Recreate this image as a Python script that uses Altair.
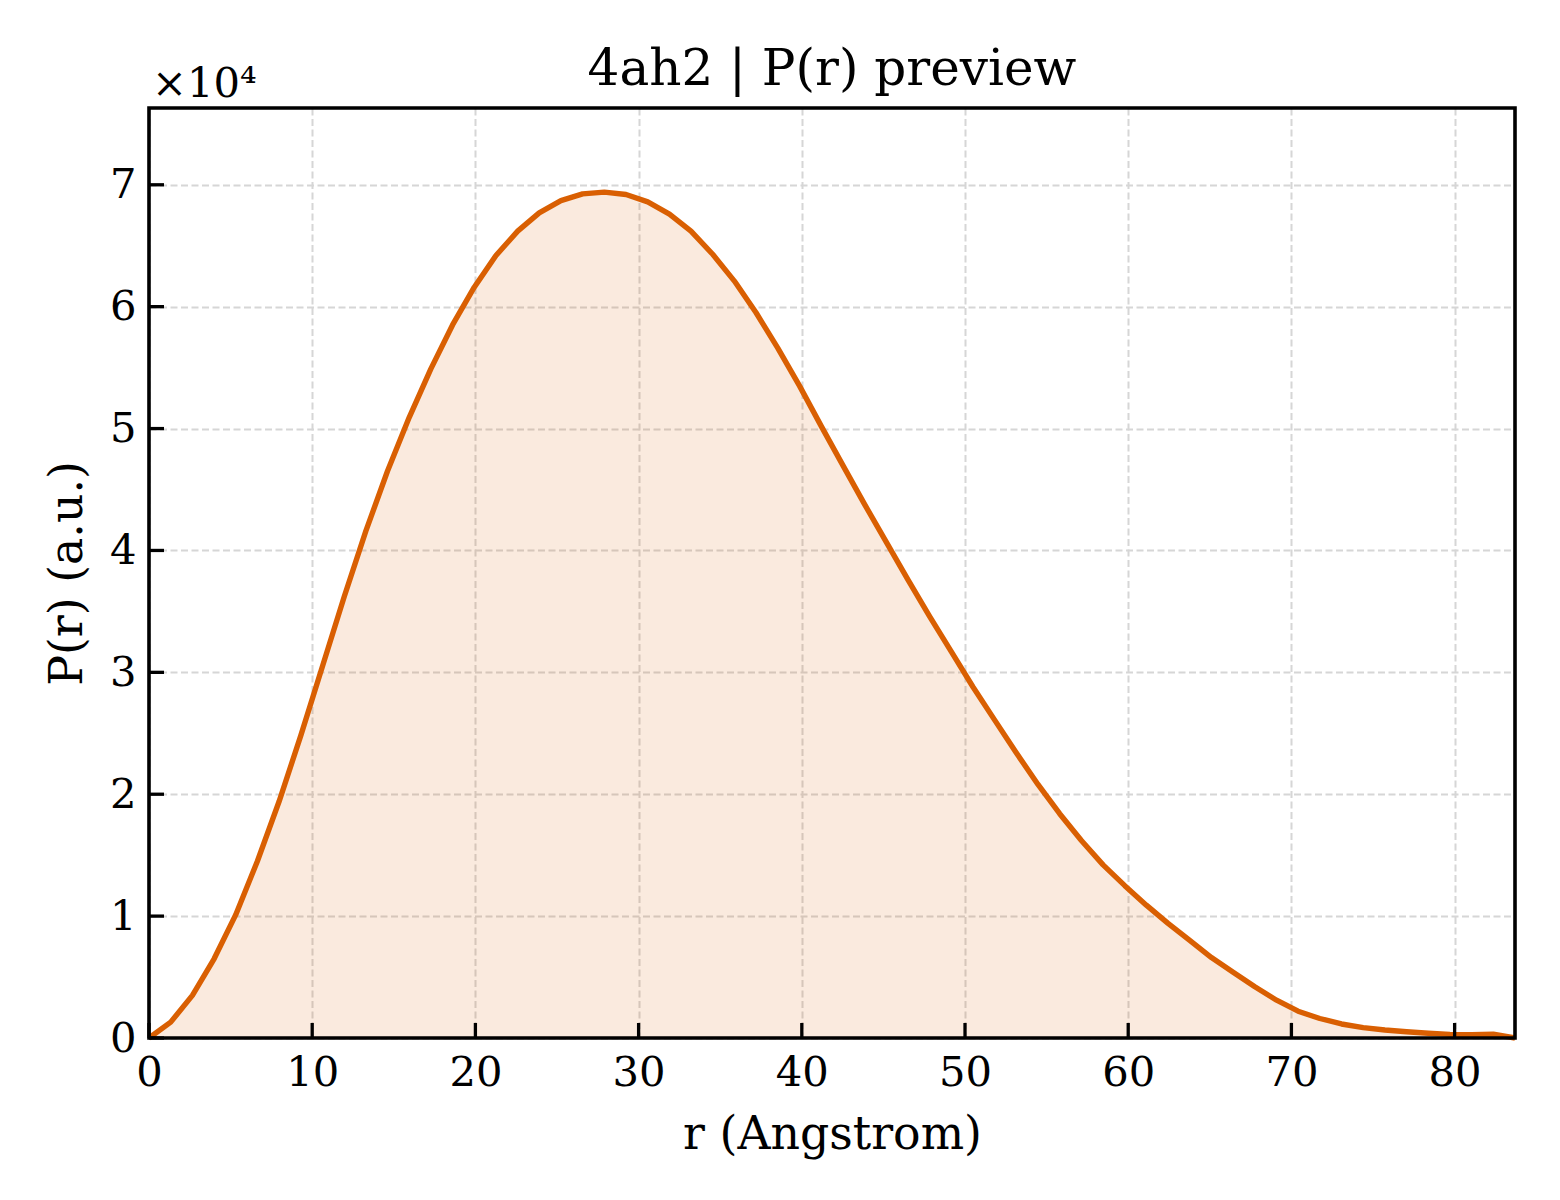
import altair as alt
import pandas as pd

# r grid (Angstrom)
r_vals = [0.00, 1.33, 2.66, 3.99, 5.31, 6.64, 7.97, 9.30, 10.63, 11.96,
          13.29, 14.61, 15.94, 17.27, 18.60, 19.93, 21.26, 22.59, 23.91, 25.24,
          26.57, 27.90, 29.23, 30.56, 31.89, 33.21, 34.54, 35.87, 37.20, 38.53,
          39.86, 41.19, 42.51, 43.84, 45.17, 46.50, 47.83, 49.16, 50.49, 51.81,
          53.14, 54.47, 55.80, 57.13, 58.46, 59.79, 61.11, 62.44, 63.77, 65.10,
          66.43, 67.76, 69.09, 70.41, 71.74, 73.07, 74.40, 75.73, 77.06, 78.39,
          79.71, 81.04, 82.37, 83.70]

# P(r) in units of 1e4
p_vals_e4 = [0.00, 0.13, 0.35, 0.65, 1.01, 1.45, 1.94, 2.48, 3.05, 3.62,
             4.16, 4.65, 5.09, 5.49, 5.85, 6.16, 6.42, 6.62, 6.77, 6.87,
             6.925, 6.94, 6.92, 6.86, 6.76, 6.62, 6.43, 6.21, 5.95, 5.66,
             5.35, 5.02, 4.70, 4.38, 4.07, 3.76, 3.46, 3.17, 2.88, 2.61,
             2.34, 2.08, 1.84, 1.62, 1.42, 1.25, 1.09, 0.94, 0.80, 0.66,
             0.54, 0.42, 0.31, 0.22, 0.16, 0.115, 0.085, 0.066, 0.051, 0.039,
             0.030, 0.027, 0.032, 0.00]

x_ticks = [0, 10, 20, 30, 40, 50, 60, 70, 80]
y_ticks_e4 = [0, 1, 2, 3, 4, 5, 6, 7]

X_MAX = 83.7
Y_MAX = 76300

title_text = "4ah2 | P(r) preview"
x_title = "r (Angstrom)"
y_title = "P(r) (a.u.)"
offset_text = "×10⁴"

LINE_COLOR = "#D95F02"
FONT = "DejaVu Serif"
W, H = 1366, 930

df = pd.DataFrame({"r": r_vals, "P": [v * 1e4 for v in p_vals_e4]})
xt = pd.DataFrame({"r": x_ticks})
yt = pd.DataFrame({"P": [v * 1e4 for v in y_ticks_e4]})

xscale = alt.Scale(domain=[0, X_MAX], nice=False, zero=False)
yscale = alt.Scale(domain=[0, Y_MAX], nice=False, zero=False)

x_axis = alt.Axis(
    values=x_ticks, grid=True, ticks=False, domain=False,
    labelPadding=14, format="d", labelFlush=False,
    titleX=683, titleY=96, titleBaseline="middle", titleAlign="center",
)
y_axis = alt.Axis(
    values=[v * 1e4 for v in y_ticks_e4], grid=True, ticks=False, domain=False,
    labelPadding=13, labelExpr="format(datum.value / 10000, 'd')", labelFlush=False,
    titleX=-82, titleY=H / 2, titleBaseline="middle", titleAlign="center", titleAngle=-90,
)

X = alt.X("r:Q", scale=xscale, axis=x_axis, title=x_title)
Y = alt.Y("P:Q", scale=yscale, axis=y_axis, title=y_title)

base = alt.Chart(df)

area = base.mark_area(color=LINE_COLOR, opacity=0.13).encode(x=X, y=Y)

line = base.mark_line(color=LINE_COLOR, strokeWidth=5.4, strokeJoin="round").encode(x=X, y=Y)

xtick_marks = alt.Chart(xt).mark_rule(color="black", strokeWidth=3.3).encode(
    x=X,
    y=alt.value(H),
    y2=alt.value(H - 15),
)

ytick_marks = alt.Chart(yt).mark_rule(color="black", strokeWidth=3.3).encode(
    y=Y,
    x=alt.value(0),
    x2=alt.value(15),
)

frame = alt.Chart(pd.DataFrame({"f": [0]})).mark_rect(
    filled=False, stroke="black", strokeWidth=3.6
).encode(
    x=alt.value(0), x2=alt.value(W), y=alt.value(0), y2=alt.value(H)
)

offset_label = alt.Chart(pd.DataFrame({"t": [offset_text]})).mark_text(
    align="left", baseline="alphabetic", font=FONT, fontSize=41.7, color="black"
).encode(
    text="t:N",
    x=alt.value(3),
    y=alt.value(-11),
)

title_label = alt.Chart(pd.DataFrame({"t": [title_text]})).mark_text(
    align="center", baseline="alphabetic", font=FONT, fontSize=50, color="black"
).encode(
    text="t:N",
    x=alt.value(W / 2),
    y=alt.value(-23),
)

chart = alt.layer(
    area, line, xtick_marks, ytick_marks, frame, offset_label, title_label
).properties(
    width=W,
    height=H,
    autosize=alt.AutoSizeParams(type="none"),
    padding={"left": 141, "top": 100, "right": 30, "bottom": 140},
).configure(
    background="white"
).configure_view(
    stroke=None, fill="white"
).configure_axis(
    labelFont=FONT, labelFontSize=41.7, labelColor="black",
    titleFont=FONT, titleFontSize=45.8, titleFontWeight="normal", titleColor="black",
    gridColor="#d6d6d6", gridWidth=2, gridDash=[7, 3.5],
)

chart.save("out.html", embed_options={"renderer": "svg", "actions": False})
